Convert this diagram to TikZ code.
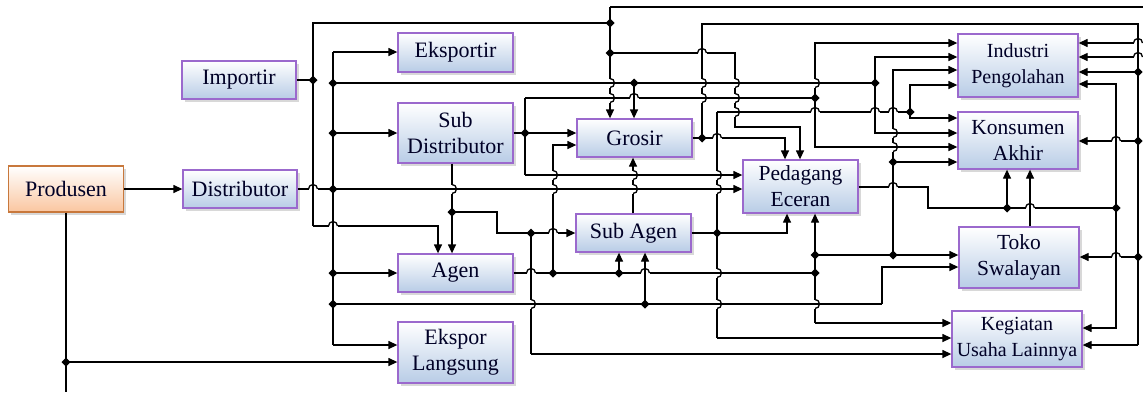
\documentclass[tikz,border=0pt]{standalone}
\usepackage{fontspec}
\setmainfont{Liberation Serif}
\usetikzlibrary{arrows.meta,shadows}
\definecolor{boxline}{RGB}{155,105,205}
\definecolor{boxblue}{RGB}{184,204,230}
\definecolor{prodline}{RGB}{200,120,60}
\definecolor{prodfill}{RGB}{250,198,160}
% horizontal line hopping over a vertical one
\newcommand\hoph[2]{%
  \fill[white] (#1,#2) +(-4.5pt,-1.6pt) rectangle +(4.5pt,1.6pt);
  \draw[ln] (#1,#2) +(0,-5pt) -- +(0,5pt);
  \draw[ln] (#1,#2) +(-4.5pt,0) arc[start angle=180,end angle=0,radius=4.5pt];}
% vertical line hopping over a horizontal one
\newcommand\hopv[2]{%
  \fill[white] (#1,#2) +(-1.6pt,-4.5pt) rectangle +(1.6pt,4.5pt);
  \draw[ln] (#1,#2) +(-5pt,0) -- +(5pt,0);
  \draw[ln] (#1,#2) +(0,4.5pt) arc[start angle=90,end angle=-90,radius=4.5pt];}
\begin{document}
\begin{tikzpicture}[x=1pt,y=-1pt,
  box/.style={draw=boxline,line width=1.3pt,top color=white,bottom color=boxblue,
    drop shadow={shadow xshift=2.5pt,shadow yshift=-2.5pt,fill=black!30},
    minimum width=115pt,minimum height=38pt,align=center,inner sep=2pt,
    text=black!85!blue,font=\fontsize{22}{26}\selectfont},
  small/.style={font=\fontsize{20}{26}\selectfont},
  mid/.style={font=\fontsize{21.5}{26}\selectfont},
  ln/.style={line width=1.3pt},
  arr/.style={ln,-{Triangle[length=9pt,width=8pt]}}]
\useasboundingbox (0,0) rectangle (1143,392);
% channel members
\node[box,draw=prodline,bottom color=prodfill,minimum height=46pt] (prod) at (66,189) {Produsen};
\node[box,minimum width=114pt] (imp) at (239,80) {Importir};
\node[box,minimum width=114pt] (dist) at (240,189) {Distributor};
\node[box,minimum height=39pt] (eksp) at (455.5,52.5) {Eksportir};
\node[box,minimum height=60pt] (subd) at (455.5,133) {Sub\\Distributor};
\node[box] (agen) at (455.5,273) {Agen};
\node[box,minimum height=61pt] (ekl) at (455.5,352.5) {Ekspor\\Langsung};
\node[box] (gros) at (634.5,138) {Grosir};
\node[box] (suba) at (633.5,233) {Sub Agen};
\node[box,mid,minimum height=53pt] (ped) at (800.5,186.5) {Pedagang\\Eceran};
\node[box,small,minimum width=120pt,minimum height=63pt] (ind) at (1018,65.5) {Industri\\Pengolahan};
\node[box,mid,minimum width=120pt,minimum height=57pt] (kons) at (1018,140.5) {Konsumen\\Akhir};
\node[box,mid,minimum width=120pt,minimum height=61pt] (toko) at (1019,257.5) {Toko\\Swalayan};
\node[box,small,minimum width=130pt,minimum height=56pt] (keg) at (1017,339) {Kegiatan\\Usaha Lainnya};
% produsen
\draw[arr] (prod.east) -- (dist.west);
\draw[ln] (prod.south) -- (66,392);
\draw[arr] (66,362) -- (ekl.west |- 66,362);
% importir
\draw[ln] (imp.east) -- (313,80);
\draw[ln] (313,226) -- (313,23) -- (610,23);
\draw[arr] (313,226) -- (438,226) -- (438,226 |- agen.north);
\draw[arr] (610,7) -- (610,7 |- gros.north);
\draw[ln] (610,7) -- (1143,7);
\draw[arr] (610,53) -- (735,53) -- (735,127) -- (800,127) -- (800,127 |- ped.north);
% distributor
\draw[ln] (dist.east) -- (333,189);
\draw[ln] (333,52) -- (333,345);
\draw[arr] (333,52) -- (eksp.west |- 333,52);
\draw[arr] (333,133) -- (subd.west |- 333,133);
\draw[arr] (333,273) -- (agen.west |- 333,273);
\draw[arr] (333,345) -- (ekl.west |- 333,345);
\draw[arr] (333,189) -- (ped.west |- 333,189);
\draw[ln] (333,83) -- (875,83);
\draw[arr] (634,83) -- (634,83 |- gros.north);
\draw[arr] (875,83) -- (875,57) -- (ind.west |- 875,57);
\draw[arr] (875,83) -- (875,133) -- (kons.west |- 875,133);
\draw[ln] (333,304) -- (882,304);
\draw[arr] (882,304) -- (882,267) -- (toko.west |- 882,267);
\draw[arr] (645,304) -- (645,304 |- suba.south);
% sub distributor
\draw[arr] (subd.east) -- (gros.west |- subd.east);
\draw[ln] (525,98) -- (525,175);
\draw[arr] (525,175) -- (ped.west |- 525,175);
\draw[ln] (525,98) -- (815,98);
\draw[arr] (815,98) -- (815,43) -- (ind.west |- 815,43);
\draw[arr] (815,98) -- (815,147) -- (kons.west |- 815,147);
\draw[arr] (subd.south -| 452,0) -- (452,0 |- agen.north);
\draw[arr] (452,212) -- (497,212) -- (497,233) -- (suba.west |- 497,233);
\draw[ln] (531,233) -- (531,354);
\draw[arr] (531,354) -- (keg.west |- 531,354);
% agen
\draw[ln] (agen.east) -- (815,273);
\draw[arr] (553,273) -- (553,145) -- (gros.west |- 553,145);
\draw[arr] (619,273) -- (619,273 |- suba.south);
\draw[arr] (815,255) -- (815,255 |- ped.south);
\draw[ln] (815,255) -- (815,323);
\draw[arr] (815,323) -- (keg.west |- 815,323);
\draw[arr] (815,255) -- (toko.west |- 815,255);
\draw[arr] (893,255) -- (893,70) -- (ind.west |- 893,70);
\draw[arr] (893,162) -- (kons.west |- 893,162);
% sub agen
\draw[arr] (suba.east) -- (787,233) -- (787,233 |- ped.south);
\draw[ln] (717,112) -- (717,338);
\draw[arr] (717,338) -- (keg.west |- 717,338);
\draw[ln] (717,112) -- (910,112);
\draw[arr] (910,112) -- (910,85) -- (ind.west |- 910,85);
\draw[arr] (910,112) -- (910,118) -- (kons.west |- 910,118);
\draw[arr] (suba.north -| 633,0) -- (633,0 |- gros.south);
% grosir
\draw[ln] (gros.east) -- (702,138) -- (702,24) -- (1138,24) -- (1138,345);
\draw[arr] (702,138) -- (785,138) -- (785,138 |- ped.north);
\draw[arr] (1138,72) -- (ind.east |- 1138,72);
\draw[arr] (1138,141) -- (kons.east |- 1138,141);
\draw[arr] (1138,257) -- (toko.east |- 1138,257);
\draw[arr] (1138,345) -- (keg.east |- 1138,345);
% pedagang eceran
\draw[ln] (ped.east |- 0,187) -- (928,187) -- (928,208) -- (1116,208);
\draw[arr] (1007,208) -- (1007,208 |- kons.south);
\draw[arr] (1116,208) -- (1116,84) -- (ind.east |- 1116,84);
\draw[arr] (1116,208) -- (1116,328) -- (keg.east |- 1116,328);
% toko swalayan
\draw[arr] (toko.north -| 1030,0) -- (1030,0 |- kons.south);
% from the right edge
\draw[arr] (1143,43) -- (ind.east |- 1143,43);
\draw[arr] (1143,57) -- (ind.east |- 1143,57);
% line hops
\foreach \x/\y in {313/189,333/226,702/53,634/98,553/233,531/273,645/273,717/138,
  815/112,875/112,893/112,893/187,1030/208,1116/141,1116/257,1138/43,1138/57}
  \hoph{\x}{\y};
\foreach \x/\y in {610/83,610/98,702/83,702/98,735/83,735/98,735/112,815/83,452/189,
  553/175,553/189,633/175,633/189,717/175,717/189,893/133,893/147,531/304,
  717/273,717/304,815/304}
  \hopv{\x}{\y};
% junctions
\foreach \x/\y in {313/80,333/83,333/133,333/189,333/273,333/304,66/362,610/23,610/53,
  634/83,525/133,452/212,531/233,553/273,619/273,645/304,815/98,875/83,910/112,
  893/162,893/255,815/255,815/273,717/233,702/138,1007/208,1116/208,1138/72,
  1138/141,1138/257}
  \fill (\x,\y) +(-4.5pt,0) -- +(0,4.5pt) -- +(4.5pt,0) -- +(0,-4.5pt) -- cycle;
\end{tikzpicture}
\end{document}
